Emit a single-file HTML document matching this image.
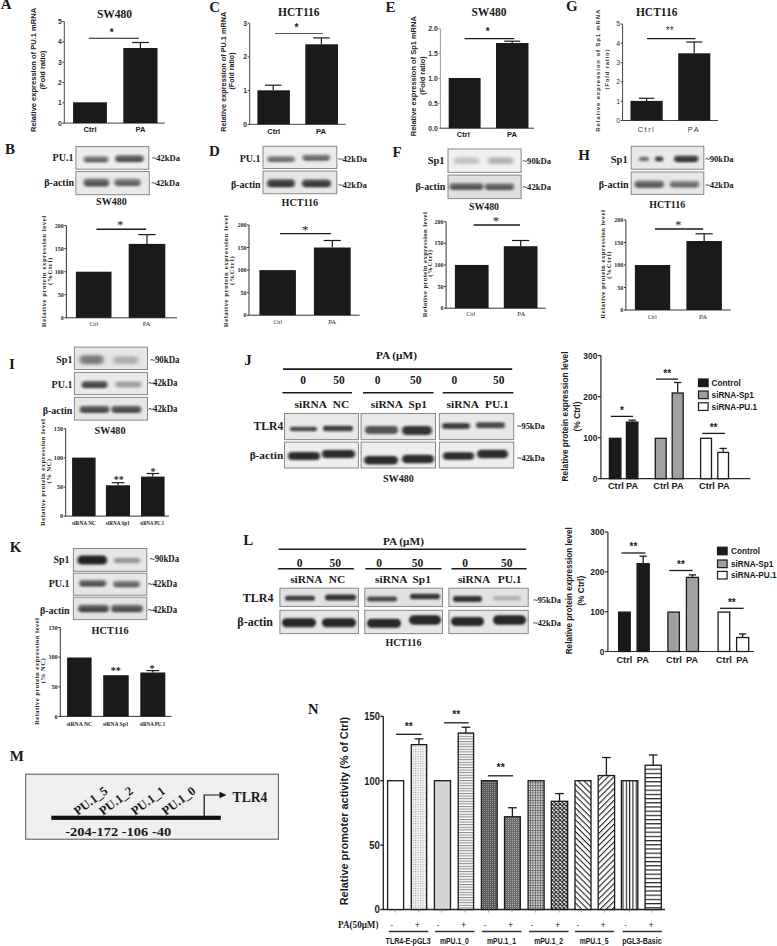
<!DOCTYPE html>
<html><head><meta charset="utf-8"><style>
html,body{margin:0;padding:0;background:#fff;}
svg{display:block;}
</style></head><body>
<svg width="777" height="946" viewBox="0 0 777 946">
<defs>
<filter id="f170_110" x="-50%" y="-150%" width="200%" height="400%"><feGaussianBlur stdDeviation="1.7 1.1"/></filter>
<filter id="f170_88" x="-50%" y="-150%" width="200%" height="400%"><feGaussianBlur stdDeviation="1.7 0.8800000000000001"/></filter>
<filter id="f180_120" x="-50%" y="-150%" width="200%" height="400%"><feGaussianBlur stdDeviation="1.8 1.2"/></filter>
<filter id="f180_96" x="-50%" y="-150%" width="200%" height="400%"><feGaussianBlur stdDeviation="1.8 0.96"/></filter>
<filter id="f160_100" x="-50%" y="-150%" width="200%" height="400%"><feGaussianBlur stdDeviation="1.6 1.0"/></filter>
<filter id="f160_80" x="-50%" y="-150%" width="200%" height="400%"><feGaussianBlur stdDeviation="1.6 0.8"/></filter>
<filter id="f140_100" x="-50%" y="-150%" width="200%" height="400%"><feGaussianBlur stdDeviation="1.4 1.0"/></filter>
<filter id="f140_80" x="-50%" y="-150%" width="200%" height="400%"><feGaussianBlur stdDeviation="1.4 0.8"/></filter>
<filter id="f200_140" x="-50%" y="-150%" width="200%" height="400%"><feGaussianBlur stdDeviation="2.0 1.4"/></filter>
<filter id="f180_110" x="-50%" y="-150%" width="200%" height="400%"><feGaussianBlur stdDeviation="1.8 1.1"/></filter>
<filter id="f180_88" x="-50%" y="-150%" width="200%" height="400%"><feGaussianBlur stdDeviation="1.8 0.8800000000000001"/></filter>
<filter id="f150_100" x="-50%" y="-150%" width="200%" height="400%"><feGaussianBlur stdDeviation="1.5 1.0"/></filter>
<filter id="f150_80" x="-50%" y="-150%" width="200%" height="400%"><feGaussianBlur stdDeviation="1.5 0.8"/></filter>
<filter id="f220_180" x="-50%" y="-150%" width="200%" height="400%"><feGaussianBlur stdDeviation="2.2 1.8"/></filter>
<filter id="f160_110" x="-50%" y="-150%" width="200%" height="400%"><feGaussianBlur stdDeviation="1.6 1.1"/></filter>
<filter id="f160_88" x="-50%" y="-150%" width="200%" height="400%"><feGaussianBlur stdDeviation="1.6 0.8800000000000001"/></filter>
<filter id="f130_90" x="-50%" y="-150%" width="200%" height="400%"><feGaussianBlur stdDeviation="1.3 0.9"/></filter>
<filter id="f120_90" x="-50%" y="-150%" width="200%" height="400%"><feGaussianBlur stdDeviation="1.2 0.9"/></filter>
<filter id="f130_100" x="-50%" y="-150%" width="200%" height="400%"><feGaussianBlur stdDeviation="1.3 1.0"/></filter>
<pattern id="pdot" width="2.4" height="2.4" patternUnits="userSpaceOnUse"><rect width="2.4" height="2.4" fill="#f4f4f4"/><rect x="0" y="0" width="1" height="1" fill="#9a9a9a"/></pattern>
<pattern id="phl" width="2.6" height="2.6" patternUnits="userSpaceOnUse"><rect width="2.6" height="2.6" fill="#fafafa"/><rect x="0" y="0" width="2.6" height="1" fill="#8a8a8a"/></pattern>
<pattern id="pdk1" width="2" height="2" patternUnits="userSpaceOnUse"><rect width="2" height="2" fill="#5a5a5a"/><rect x="0" y="0" width="1" height="1" fill="#9a9a9a"/></pattern>
<pattern id="pdk2" width="2" height="2" patternUnits="userSpaceOnUse"><rect width="2" height="2" fill="#6a6a6a"/><rect x="0" y="0" width="1" height="1" fill="#aaaaaa"/></pattern>
<pattern id="pgrid" width="2.5" height="2.5" patternUnits="userSpaceOnUse"><rect width="2.5" height="2.5" fill="#d8d8d8"/><rect x="0" y="0" width="2.5" height="0.8" fill="#666"/><rect x="0" y="0" width="0.8" height="2.5" fill="#666"/></pattern>
<pattern id="pdia" width="4" height="4" patternUnits="userSpaceOnUse"><rect width="4" height="4" fill="#ffffff"/><path d="M0 0L4 4M4 0L0 4" stroke="#333" stroke-width="1.3"/></pattern>
<pattern id="pbs" width="4.2" height="4.2" patternUnits="userSpaceOnUse" patternTransform="rotate(45)"><rect width="4.2" height="4.2" fill="#fff"/><rect x="0" y="0" width="4.2" height="1.1" fill="#222"/></pattern>
<pattern id="pfs" width="4.2" height="4.2" patternUnits="userSpaceOnUse" patternTransform="rotate(-45)"><rect width="4.2" height="4.2" fill="#fff"/><rect x="0" y="0" width="4.2" height="1.1" fill="#222"/></pattern>
<pattern id="pvl" width="3.3" height="3.3" patternUnits="userSpaceOnUse" x="622.5"><rect width="3.3" height="3.3" fill="#fff"/><rect x="0" y="0" width="1.1" height="3.3" fill="#222"/></pattern>
<pattern id="phl2" width="4.2" height="4.2" patternUnits="userSpaceOnUse"><rect width="4.2" height="4.2" fill="#fff"/><rect x="0" y="0" width="4.2" height="1.2" fill="#222"/></pattern>
</defs>
<rect width="777" height="946" fill="#fff"/>
<text x="0.80" y="9.40" font-family="Liberation Serif" font-size="15" font-weight="bold" fill="#1a1a1a">A</text>
<text x="114.50" y="17.50" font-family="Liberation Serif" font-size="11.5" font-weight="bold" text-anchor="middle" fill="#1a1a1a">SW480</text>
<line x1="64.30" y1="21.60" x2="64.30" y2="123.10" stroke="#444" stroke-width="1.0"/>
<line x1="63.80" y1="123.10" x2="164.80" y2="123.10" stroke="#444" stroke-width="1.0"/>
<line x1="62.30" y1="123.10" x2="64.30" y2="123.10" stroke="#444" stroke-width="1.0"/>
<text x="61.70" y="125.55" font-family="Liberation Sans" font-size="6.8" font-weight="bold" text-anchor="end" fill="#333">0</text>
<line x1="62.30" y1="102.80" x2="64.30" y2="102.80" stroke="#444" stroke-width="1.0"/>
<text x="61.70" y="105.25" font-family="Liberation Sans" font-size="6.8" font-weight="bold" text-anchor="end" fill="#333">1</text>
<line x1="62.30" y1="82.50" x2="64.30" y2="82.50" stroke="#444" stroke-width="1.0"/>
<text x="61.70" y="84.95" font-family="Liberation Sans" font-size="6.8" font-weight="bold" text-anchor="end" fill="#333">2</text>
<line x1="62.30" y1="62.20" x2="64.30" y2="62.20" stroke="#444" stroke-width="1.0"/>
<text x="61.70" y="64.65" font-family="Liberation Sans" font-size="6.8" font-weight="bold" text-anchor="end" fill="#333">3</text>
<line x1="62.30" y1="41.90" x2="64.30" y2="41.90" stroke="#444" stroke-width="1.0"/>
<text x="61.70" y="44.35" font-family="Liberation Sans" font-size="6.8" font-weight="bold" text-anchor="end" fill="#333">4</text>
<line x1="62.30" y1="21.60" x2="64.30" y2="21.60" stroke="#444" stroke-width="1.0"/>
<text x="61.70" y="24.05" font-family="Liberation Sans" font-size="6.8" font-weight="bold" text-anchor="end" fill="#333">5</text>
<rect x="73.10" y="102.30" width="33.80" height="20.80" fill="#1a1a1a"/>
<rect x="123.30" y="48.00" width="34.20" height="75.10" fill="#1a1a1a"/>
<line x1="140.40" y1="48.00" x2="140.40" y2="42.50" stroke="#1a1a1a" stroke-width="1.2"/>
<line x1="131.90" y1="42.50" x2="148.90" y2="42.50" stroke="#1a1a1a" stroke-width="1.2"/>
<line x1="88.80" y1="38.30" x2="139.00" y2="38.30" stroke="#1a1a1a" stroke-width="1.1"/>
<text x="111.80" y="36.20" font-family="Liberation Sans" font-size="10" font-weight="bold" text-anchor="middle" fill="#1a1a1a">*</text>
<text x="90.00" y="132.30" font-family="Liberation Sans" font-size="7.6" font-weight="bold" text-anchor="middle" fill="#1a1a1a">Ctrl</text>
<text x="140.60" y="132.30" font-family="Liberation Sans" font-size="7.6" font-weight="bold" text-anchor="middle" fill="#1a1a1a">PA</text>
<text x="35.60" y="69.90" font-family="Liberation Sans" font-size="7.8" font-weight="bold" text-anchor="middle" transform="rotate(-90 35.60 69.90)" textLength="124" lengthAdjust="spacingAndGlyphs" fill="#222">Relative expression of PU.1 mRNA</text>
<text x="45.50" y="69.90" font-family="Liberation Sans" font-size="7.8" font-weight="bold" text-anchor="middle" transform="rotate(-90 45.50 69.90)" textLength="39" lengthAdjust="spacingAndGlyphs" fill="#222">(Fold ratio)</text>
<text x="209.30" y="11.80" font-family="Liberation Serif" font-size="15" font-weight="bold" fill="#1a1a1a">C</text>
<text x="298.80" y="16.30" font-family="Liberation Serif" font-size="11.5" font-weight="bold" text-anchor="middle" fill="#1a1a1a">HCT116</text>
<line x1="249.70" y1="23.20" x2="249.70" y2="124.30" stroke="#444" stroke-width="1.0"/>
<line x1="249.20" y1="124.30" x2="345.70" y2="124.30" stroke="#444" stroke-width="1.0"/>
<line x1="247.70" y1="124.30" x2="249.70" y2="124.30" stroke="#444" stroke-width="1.0"/>
<text x="247.10" y="126.75" font-family="Liberation Sans" font-size="6.8" font-weight="bold" text-anchor="end" fill="#333">0</text>
<line x1="247.70" y1="90.60" x2="249.70" y2="90.60" stroke="#444" stroke-width="1.0"/>
<text x="247.10" y="93.05" font-family="Liberation Sans" font-size="6.8" font-weight="bold" text-anchor="end" fill="#333">1</text>
<line x1="247.70" y1="56.90" x2="249.70" y2="56.90" stroke="#444" stroke-width="1.0"/>
<text x="247.10" y="59.35" font-family="Liberation Sans" font-size="6.8" font-weight="bold" text-anchor="end" fill="#333">2</text>
<line x1="247.70" y1="23.20" x2="249.70" y2="23.20" stroke="#444" stroke-width="1.0"/>
<text x="247.10" y="25.65" font-family="Liberation Sans" font-size="6.8" font-weight="bold" text-anchor="end" fill="#333">3</text>
<rect x="257.40" y="90.30" width="32.50" height="34.00" fill="#1a1a1a"/>
<rect x="305.30" y="44.30" width="32.70" height="80.00" fill="#1a1a1a"/>
<line x1="273.20" y1="90.30" x2="273.20" y2="85.20" stroke="#1a1a1a" stroke-width="1.2"/>
<line x1="265.00" y1="85.20" x2="281.40" y2="85.20" stroke="#1a1a1a" stroke-width="1.2"/>
<line x1="321.40" y1="44.30" x2="321.40" y2="37.90" stroke="#1a1a1a" stroke-width="1.2"/>
<line x1="313.10" y1="37.90" x2="329.70" y2="37.90" stroke="#1a1a1a" stroke-width="1.2"/>
<line x1="275.00" y1="33.50" x2="322.60" y2="33.50" stroke="#555" stroke-width="1.1"/>
<text x="296.50" y="31.00" font-family="Liberation Sans" font-size="10" font-weight="bold" text-anchor="middle" fill="#1a1a1a">*</text>
<text x="273.70" y="134.30" font-family="Liberation Sans" font-size="7.6" font-weight="bold" text-anchor="middle" fill="#1a1a1a">Ctrl</text>
<text x="321.00" y="134.30" font-family="Liberation Sans" font-size="7.6" font-weight="bold" text-anchor="middle" fill="#1a1a1a">PA</text>
<text x="226.20" y="71.80" font-family="Liberation Sans" font-size="7.8" font-weight="bold" text-anchor="middle" transform="rotate(-90 226.20 71.80)" textLength="120" lengthAdjust="spacingAndGlyphs" fill="#222">Relative expression of PU.1 mRNA</text>
<text x="234.30" y="71.00" font-family="Liberation Sans" font-size="7.8" font-weight="bold" text-anchor="middle" transform="rotate(-90 234.30 71.00)" textLength="37" lengthAdjust="spacingAndGlyphs" fill="#222">(Fold ratio)</text>
<text x="385.50" y="11.80" font-family="Liberation Serif" font-size="15" font-weight="bold" fill="#1a1a1a">E</text>
<text x="489.00" y="15.50" font-family="Liberation Serif" font-size="11.5" font-weight="bold" text-anchor="middle" fill="#1a1a1a">SW480</text>
<line x1="440.40" y1="28.80" x2="440.40" y2="128.20" stroke="#999" stroke-width="1.0"/>
<line x1="439.90" y1="128.20" x2="534.00" y2="128.20" stroke="#333" stroke-width="1.0"/>
<line x1="438.40" y1="128.20" x2="440.40" y2="128.20" stroke="#999" stroke-width="1.0"/>
<text x="437.80" y="130.65" font-family="Liberation Sans" font-size="6.8" font-weight="bold" text-anchor="end" fill="#333">0.0</text>
<line x1="438.40" y1="103.35" x2="440.40" y2="103.35" stroke="#999" stroke-width="1.0"/>
<text x="437.80" y="105.80" font-family="Liberation Sans" font-size="6.8" font-weight="bold" text-anchor="end" fill="#333">0.5</text>
<line x1="438.40" y1="78.50" x2="440.40" y2="78.50" stroke="#999" stroke-width="1.0"/>
<text x="437.80" y="80.95" font-family="Liberation Sans" font-size="6.8" font-weight="bold" text-anchor="end" fill="#333">1.0</text>
<line x1="438.40" y1="53.65" x2="440.40" y2="53.65" stroke="#999" stroke-width="1.0"/>
<text x="437.80" y="56.10" font-family="Liberation Sans" font-size="6.8" font-weight="bold" text-anchor="end" fill="#333">1.5</text>
<line x1="438.40" y1="28.80" x2="440.40" y2="28.80" stroke="#999" stroke-width="1.0"/>
<text x="437.80" y="31.25" font-family="Liberation Sans" font-size="6.8" font-weight="bold" text-anchor="end" fill="#333">2.0</text>
<rect x="448.70" y="78.00" width="31.90" height="50.20" fill="#1a1a1a"/>
<rect x="496.00" y="43.00" width="32.50" height="85.20" fill="#1a1a1a"/>
<line x1="512.20" y1="43.00" x2="512.20" y2="41.20" stroke="#1a1a1a" stroke-width="1.2"/>
<line x1="504.20" y1="41.20" x2="520.20" y2="41.20" stroke="#1a1a1a" stroke-width="1.2"/>
<line x1="464.60" y1="38.60" x2="514.30" y2="38.60" stroke="#1a1a1a" stroke-width="1.1"/>
<text x="487.80" y="34.60" font-family="Liberation Sans" font-size="10" font-weight="bold" text-anchor="middle" fill="#1a1a1a">*</text>
<text x="463.40" y="137.00" font-family="Liberation Sans" font-size="7.6" font-weight="bold" text-anchor="middle" fill="#1a1a1a">Ctrl</text>
<text x="512.00" y="137.00" font-family="Liberation Sans" font-size="7.6" font-weight="bold" text-anchor="middle" fill="#1a1a1a">PA</text>
<text x="416.00" y="76.20" font-family="Liberation Sans" font-size="7.8" font-weight="bold" text-anchor="middle" transform="rotate(-90 416.00 76.20)" textLength="120" lengthAdjust="spacingAndGlyphs" fill="#222">Relative expression of Sp1 mRNA</text>
<text x="424.60" y="75.50" font-family="Liberation Sans" font-size="7.8" font-weight="bold" text-anchor="middle" transform="rotate(-90 424.60 75.50)" textLength="38.5" lengthAdjust="spacingAndGlyphs" fill="#222">(Fold ratio)</text>
<text x="566.00" y="10.80" font-family="Liberation Serif" font-size="15" font-weight="bold" fill="#1a1a1a">G</text>
<text x="656.70" y="16.00" font-family="Liberation Serif" font-size="11.5" font-weight="bold" text-anchor="middle" fill="#1a1a1a">HCT116</text>
<line x1="622.60" y1="24.00" x2="622.60" y2="120.50" stroke="#444" stroke-width="1.0"/>
<line x1="622.10" y1="120.50" x2="718.00" y2="120.50" stroke="#444" stroke-width="1.0"/>
<line x1="620.60" y1="120.50" x2="622.60" y2="120.50" stroke="#444" stroke-width="1.0"/>
<text x="620.00" y="122.95" font-family="Liberation Sans" font-size="6.8" text-anchor="end" fill="#333">0</text>
<line x1="620.60" y1="101.20" x2="622.60" y2="101.20" stroke="#444" stroke-width="1.0"/>
<text x="620.00" y="103.65" font-family="Liberation Sans" font-size="6.8" text-anchor="end" fill="#333">1</text>
<line x1="620.60" y1="81.90" x2="622.60" y2="81.90" stroke="#444" stroke-width="1.0"/>
<text x="620.00" y="84.35" font-family="Liberation Sans" font-size="6.8" text-anchor="end" fill="#333">2</text>
<line x1="620.60" y1="62.60" x2="622.60" y2="62.60" stroke="#444" stroke-width="1.0"/>
<text x="620.00" y="65.05" font-family="Liberation Sans" font-size="6.8" text-anchor="end" fill="#333">3</text>
<line x1="620.60" y1="43.30" x2="622.60" y2="43.30" stroke="#444" stroke-width="1.0"/>
<text x="620.00" y="45.75" font-family="Liberation Sans" font-size="6.8" text-anchor="end" fill="#333">4</text>
<line x1="620.60" y1="24.00" x2="622.60" y2="24.00" stroke="#444" stroke-width="1.0"/>
<text x="620.00" y="26.45" font-family="Liberation Sans" font-size="6.8" text-anchor="end" fill="#333">5</text>
<rect x="630.50" y="100.90" width="32.20" height="19.60" fill="#1a1a1a"/>
<rect x="678.20" y="53.30" width="32.10" height="67.20" fill="#1a1a1a"/>
<line x1="646.60" y1="100.90" x2="646.60" y2="98.30" stroke="#1a1a1a" stroke-width="1.2"/>
<line x1="638.90" y1="98.30" x2="654.30" y2="98.30" stroke="#1a1a1a" stroke-width="1.2"/>
<line x1="694.20" y1="53.30" x2="694.20" y2="42.00" stroke="#1a1a1a" stroke-width="1.2"/>
<line x1="686.20" y1="42.00" x2="702.20" y2="42.00" stroke="#1a1a1a" stroke-width="1.2"/>
<line x1="647.00" y1="38.60" x2="695.40" y2="38.60" stroke="#1a1a1a" stroke-width="1.1"/>
<text x="669.70" y="34.00" font-family="Liberation Sans" font-size="10" text-anchor="middle" fill="#333">**</text>
<text x="646.50" y="131.50" font-family="Liberation Sans" font-size="7.4" text-anchor="middle" letter-spacing="1.5" fill="#333">Ctrl</text>
<text x="694.00" y="131.50" font-family="Liberation Sans" font-size="7.4" text-anchor="middle" letter-spacing="1.5" fill="#333">PA</text>
<text x="600.10" y="70.70" font-family="Liberation Sans" font-size="6.0" font-weight="bold" text-anchor="middle" transform="rotate(-90 600.10 70.70)" textLength="122" lengthAdjust="spacing" fill="#333">Relative expression of Sp1 mRNA</text>
<text x="608.80" y="69.50" font-family="Liberation Sans" font-size="6.0" font-weight="bold" text-anchor="middle" transform="rotate(-90 608.80 69.50)" textLength="40" lengthAdjust="spacing" fill="#333">(Fold ratio)</text>
<text x="5.00" y="154.30" font-family="Liberation Serif" font-size="15" font-weight="bold" fill="#1a1a1a">B</text>
<rect x="75.90" y="146.60" width="72.90" height="22.60" fill="#ececec" stroke="#888" stroke-width="1"/>
<rect x="75.90" y="171.50" width="73.40" height="23.20" fill="#e9e9e9" stroke="#888" stroke-width="1"/>
<rect x="83.40" y="156.20" width="25.20" height="6.20" rx="3.10" fill="#202020" opacity="0.48750000000000004" filter="url(#f170_110)"/>
<rect x="84.90" y="158.71" width="22.20" height="3.41" rx="1.71" fill="#202020" opacity="0.35750000000000004" filter="url(#f170_88)"/>
<rect x="115.00" y="155.10" width="28.80" height="7.00" rx="3.50" fill="#202020" opacity="0.6000000000000001" filter="url(#f170_110)"/>
<rect x="116.50" y="157.93" width="25.80" height="3.85" rx="1.93" fill="#202020" opacity="0.44000000000000006" filter="url(#f170_88)"/>
<rect x="83.40" y="178.60" width="26.10" height="8.00" rx="4.00" fill="#202020" opacity="0.5625" filter="url(#f180_120)"/>
<rect x="84.90" y="181.84" width="23.10" height="4.40" rx="2.20" fill="#202020" opacity="0.41250000000000003" filter="url(#f180_96)"/>
<rect x="114.00" y="178.50" width="27.00" height="7.60" rx="3.80" fill="#202020" opacity="0.48750000000000004" filter="url(#f180_120)"/>
<rect x="115.50" y="181.58" width="24.00" height="4.18" rx="2.09" fill="#202020" opacity="0.35750000000000004" filter="url(#f180_96)"/>
<text x="73.40" y="160.70" font-family="Liberation Serif" font-size="10" font-weight="bold" text-anchor="end" fill="#1a1a1a">PU.1</text>
<text x="74.00" y="186.40" font-family="Liberation Serif" font-size="10" font-weight="bold" text-anchor="end" fill="#1a1a1a">β-actin</text>
<text x="151.90" y="160.50" font-family="Liberation Serif" font-size="9" font-weight="bold" textLength="28" lengthAdjust="spacingAndGlyphs" fill="#1a1a1a">~42kDa</text>
<text x="151.40" y="186.20" font-family="Liberation Serif" font-size="9" font-weight="bold" textLength="28" lengthAdjust="spacingAndGlyphs" fill="#1a1a1a">~42kDa</text>
<text x="111.40" y="204.90" font-family="Liberation Serif" font-size="10.4" font-weight="bold" text-anchor="middle" textLength="30.6" lengthAdjust="spacingAndGlyphs" fill="#1a1a1a">SW480</text>
<line x1="66.40" y1="225.60" x2="66.40" y2="317.80" stroke="#333" stroke-width="1.0"/>
<line x1="65.90" y1="317.80" x2="177.00" y2="317.80" stroke="#333" stroke-width="1.0"/>
<line x1="64.40" y1="317.80" x2="66.40" y2="317.80" stroke="#333" stroke-width="1.0"/>
<text x="63.80" y="319.96" font-family="Liberation Serif" font-size="6" font-weight="bold" text-anchor="end" fill="#2a2a2a">0</text>
<line x1="64.40" y1="294.75" x2="66.40" y2="294.75" stroke="#333" stroke-width="1.0"/>
<text x="63.80" y="296.91" font-family="Liberation Serif" font-size="6" font-weight="bold" text-anchor="end" fill="#2a2a2a">50</text>
<line x1="64.40" y1="271.70" x2="66.40" y2="271.70" stroke="#333" stroke-width="1.0"/>
<text x="63.80" y="273.86" font-family="Liberation Serif" font-size="6" font-weight="bold" text-anchor="end" fill="#2a2a2a">100</text>
<line x1="64.40" y1="248.65" x2="66.40" y2="248.65" stroke="#333" stroke-width="1.0"/>
<text x="63.80" y="250.81" font-family="Liberation Serif" font-size="6" font-weight="bold" text-anchor="end" fill="#2a2a2a">150</text>
<line x1="64.40" y1="225.60" x2="66.40" y2="225.60" stroke="#333" stroke-width="1.0"/>
<text x="63.80" y="227.76" font-family="Liberation Serif" font-size="6" font-weight="bold" text-anchor="end" fill="#2a2a2a">200</text>
<rect x="75.90" y="271.70" width="35.60" height="46.10" fill="#1a1a1a"/>
<rect x="128.70" y="243.90" width="36.60" height="73.90" fill="#1a1a1a"/>
<line x1="147.00" y1="243.90" x2="147.00" y2="234.60" stroke="#1a1a1a" stroke-width="1.2"/>
<line x1="138.40" y1="234.60" x2="155.60" y2="234.60" stroke="#1a1a1a" stroke-width="1.2"/>
<line x1="96.50" y1="229.20" x2="146.20" y2="229.20" stroke="#1a1a1a" stroke-width="1.4"/>
<text x="120.20" y="229.40" font-family="Liberation Serif" font-size="13" text-anchor="middle" fill="#1a1a1a">*</text>
<text x="94.00" y="326.00" font-family="Liberation Serif" font-size="6.4" text-anchor="middle" textLength="8.8" lengthAdjust="spacingAndGlyphs" fill="#1a1a1a">Ctrl</text>
<text x="146.70" y="326.00" font-family="Liberation Serif" font-size="6.4" text-anchor="middle" textLength="8" lengthAdjust="spacingAndGlyphs" fill="#1a1a1a">PA</text>
<text x="45.80" y="271.50" font-family="Liberation Serif" font-size="6.8" font-weight="bold" text-anchor="middle" transform="rotate(-90 45.80 271.50)" textLength="111.5" lengthAdjust="spacing" fill="#2a2a2a">Relative protein expression level</text>
<text x="52.20" y="271.30" font-family="Liberation Serif" font-size="6.8" font-weight="bold" text-anchor="middle" transform="rotate(-90 52.20 271.30)" textLength="27.3" lengthAdjust="spacing" fill="#2a2a2a">(%Ctrl)</text>
<text x="209.00" y="155.60" font-family="Liberation Serif" font-size="15" font-weight="bold" fill="#1a1a1a">D</text>
<rect x="263.00" y="146.30" width="73.80" height="22.20" fill="#ebebeb" stroke="#888" stroke-width="1"/>
<rect x="263.00" y="171.00" width="73.80" height="22.70" fill="#e6e6e6" stroke="#888" stroke-width="1"/>
<rect x="267.10" y="156.00" width="27.90" height="6.00" rx="3.00" fill="#202020" opacity="0.44999999999999996" filter="url(#f160_100)"/>
<rect x="268.60" y="158.43" width="24.90" height="3.30" rx="1.65" fill="#202020" opacity="0.33" filter="url(#f160_80)"/>
<rect x="302.30" y="154.50" width="27.90" height="6.20" rx="3.10" fill="#202020" opacity="0.48750000000000004" filter="url(#f160_100)"/>
<rect x="303.80" y="157.01" width="24.90" height="3.41" rx="1.71" fill="#202020" opacity="0.35750000000000004" filter="url(#f160_80)"/>
<rect x="267.00" y="179.30" width="28.00" height="7.80" rx="3.90" fill="#202020" opacity="0.75" filter="url(#f140_100)"/>
<rect x="268.50" y="182.46" width="25.00" height="4.29" rx="2.15" fill="#202020" opacity="0.55" filter="url(#f140_80)"/>
<rect x="302.00" y="179.40" width="29.00" height="7.60" rx="3.80" fill="#202020" opacity="0.75" filter="url(#f140_100)"/>
<rect x="303.50" y="182.48" width="26.00" height="4.18" rx="2.09" fill="#202020" opacity="0.55" filter="url(#f140_80)"/>
<text x="260.60" y="161.80" font-family="Liberation Serif" font-size="10" font-weight="bold" text-anchor="end" fill="#1a1a1a">PU.1</text>
<text x="260.60" y="187.50" font-family="Liberation Serif" font-size="10" font-weight="bold" text-anchor="end" fill="#1a1a1a">β-actin</text>
<text x="337.90" y="161.80" font-family="Liberation Serif" font-size="9" font-weight="bold" textLength="29" lengthAdjust="spacingAndGlyphs" fill="#1a1a1a">~42kDa</text>
<text x="337.90" y="187.50" font-family="Liberation Serif" font-size="9" font-weight="bold" textLength="29" lengthAdjust="spacingAndGlyphs" fill="#1a1a1a">~42kDa</text>
<text x="299.80" y="205.80" font-family="Liberation Serif" font-size="10.4" font-weight="bold" text-anchor="middle" textLength="36.6" lengthAdjust="spacingAndGlyphs" fill="#1a1a1a">HCT116</text>
<line x1="249.00" y1="225.00" x2="249.00" y2="315.20" stroke="#333" stroke-width="1.0"/>
<line x1="248.50" y1="315.20" x2="359.70" y2="315.20" stroke="#333" stroke-width="1.0"/>
<line x1="247.00" y1="315.20" x2="249.00" y2="315.20" stroke="#333" stroke-width="1.0"/>
<text x="246.40" y="317.36" font-family="Liberation Serif" font-size="6" font-weight="bold" text-anchor="end" fill="#2a2a2a">0</text>
<line x1="247.00" y1="292.65" x2="249.00" y2="292.65" stroke="#333" stroke-width="1.0"/>
<text x="246.40" y="294.81" font-family="Liberation Serif" font-size="6" font-weight="bold" text-anchor="end" fill="#2a2a2a">50</text>
<line x1="247.00" y1="270.10" x2="249.00" y2="270.10" stroke="#333" stroke-width="1.0"/>
<text x="246.40" y="272.26" font-family="Liberation Serif" font-size="6" font-weight="bold" text-anchor="end" fill="#2a2a2a">100</text>
<line x1="247.00" y1="247.55" x2="249.00" y2="247.55" stroke="#333" stroke-width="1.0"/>
<text x="246.40" y="249.71" font-family="Liberation Serif" font-size="6" font-weight="bold" text-anchor="end" fill="#2a2a2a">150</text>
<line x1="247.00" y1="225.00" x2="249.00" y2="225.00" stroke="#333" stroke-width="1.0"/>
<text x="246.40" y="227.16" font-family="Liberation Serif" font-size="6" font-weight="bold" text-anchor="end" fill="#2a2a2a">200</text>
<rect x="259.40" y="270.10" width="36.50" height="45.10" fill="#1a1a1a"/>
<rect x="313.90" y="247.50" width="36.80" height="67.70" fill="#1a1a1a"/>
<line x1="332.30" y1="247.50" x2="332.30" y2="240.50" stroke="#1a1a1a" stroke-width="1.2"/>
<line x1="323.70" y1="240.50" x2="340.90" y2="240.50" stroke="#1a1a1a" stroke-width="1.2"/>
<line x1="280.00" y1="233.60" x2="331.00" y2="233.60" stroke="#1a1a1a" stroke-width="1.4"/>
<text x="305.20" y="233.90" font-family="Liberation Serif" font-size="13" text-anchor="middle" fill="#1a1a1a">*</text>
<text x="277.90" y="324.00" font-family="Liberation Serif" font-size="6.4" text-anchor="middle" textLength="8.8" lengthAdjust="spacingAndGlyphs" fill="#1a1a1a">Ctrl</text>
<text x="332.20" y="324.00" font-family="Liberation Serif" font-size="6.4" text-anchor="middle" textLength="8" lengthAdjust="spacingAndGlyphs" fill="#1a1a1a">PA</text>
<text x="227.80" y="271.30" font-family="Liberation Serif" font-size="6.8" font-weight="bold" text-anchor="middle" transform="rotate(-90 227.80 271.30)" textLength="112" lengthAdjust="spacing" fill="#2a2a2a">Relative protein expression level</text>
<text x="234.20" y="270.60" font-family="Liberation Serif" font-size="6.8" font-weight="bold" text-anchor="middle" transform="rotate(-90 234.20 270.60)" textLength="28.6" lengthAdjust="spacing" fill="#2a2a2a">(%Ctrl)</text>
<text x="392.60" y="157.20" font-family="Liberation Serif" font-size="15" font-weight="bold" fill="#1a1a1a">F</text>
<rect x="448.00" y="149.00" width="73.10" height="23.40" fill="#f0f0f0" stroke="#888" stroke-width="1"/>
<rect x="448.00" y="175.10" width="73.10" height="23.50" fill="#e0e0e0" stroke="#888" stroke-width="1"/>
<rect x="453.90" y="157.45" width="25.20" height="6.50" rx="3.25" fill="#202020" opacity="0.22" filter="url(#f200_140)"/>
<rect x="488.20" y="157.45" width="25.20" height="6.50" rx="3.25" fill="#202020" opacity="0.3" filter="url(#f200_140)"/>
<rect x="449.40" y="183.00" width="34.20" height="6.80" rx="3.40" fill="#202020" opacity="0.5625" filter="url(#f180_110)"/>
<rect x="450.90" y="185.75" width="31.20" height="3.74" rx="1.87" fill="#202020" opacity="0.41250000000000003" filter="url(#f180_88)"/>
<rect x="484.60" y="183.20" width="29.70" height="6.80" rx="3.40" fill="#202020" opacity="0.5249999999999999" filter="url(#f180_110)"/>
<rect x="486.10" y="185.95" width="26.70" height="3.74" rx="1.87" fill="#202020" opacity="0.385" filter="url(#f180_88)"/>
<text x="444.60" y="164.00" font-family="Liberation Serif" font-size="10.5" font-weight="bold" text-anchor="end" fill="#1a1a1a">Sp1</text>
<text x="445.30" y="189.60" font-family="Liberation Serif" font-size="10" font-weight="bold" text-anchor="end" fill="#1a1a1a">β-actin</text>
<text x="522.60" y="163.80" font-family="Liberation Serif" font-size="9" font-weight="bold" textLength="28.5" lengthAdjust="spacingAndGlyphs" fill="#1a1a1a">~90kDa</text>
<text x="522.60" y="189.50" font-family="Liberation Serif" font-size="9" font-weight="bold" textLength="28.5" lengthAdjust="spacingAndGlyphs" fill="#1a1a1a">~42kDa</text>
<text x="484.00" y="209.90" font-family="Liberation Serif" font-size="10.4" font-weight="bold" text-anchor="middle" textLength="30.1" lengthAdjust="spacingAndGlyphs" fill="#1a1a1a">SW480</text>
<line x1="446.10" y1="221.70" x2="446.10" y2="308.20" stroke="#333" stroke-width="1.0"/>
<line x1="445.60" y1="308.20" x2="545.70" y2="308.20" stroke="#333" stroke-width="1.0"/>
<line x1="444.10" y1="308.20" x2="446.10" y2="308.20" stroke="#333" stroke-width="1.0"/>
<text x="443.50" y="310.36" font-family="Liberation Serif" font-size="6" font-weight="bold" text-anchor="end" fill="#2a2a2a">0</text>
<line x1="444.10" y1="286.57" x2="446.10" y2="286.57" stroke="#333" stroke-width="1.0"/>
<text x="443.50" y="288.74" font-family="Liberation Serif" font-size="6" font-weight="bold" text-anchor="end" fill="#2a2a2a">50</text>
<line x1="444.10" y1="264.95" x2="446.10" y2="264.95" stroke="#333" stroke-width="1.0"/>
<text x="443.50" y="267.11" font-family="Liberation Serif" font-size="6" font-weight="bold" text-anchor="end" fill="#2a2a2a">100</text>
<line x1="444.10" y1="243.32" x2="446.10" y2="243.32" stroke="#333" stroke-width="1.0"/>
<text x="443.50" y="245.48" font-family="Liberation Serif" font-size="6" font-weight="bold" text-anchor="end" fill="#2a2a2a">150</text>
<line x1="444.10" y1="221.70" x2="446.10" y2="221.70" stroke="#333" stroke-width="1.0"/>
<text x="443.50" y="223.86" font-family="Liberation Serif" font-size="6" font-weight="bold" text-anchor="end" fill="#2a2a2a">200</text>
<rect x="454.90" y="264.95" width="33.70" height="43.25" fill="#1a1a1a"/>
<rect x="503.80" y="246.20" width="33.70" height="62.00" fill="#1a1a1a"/>
<line x1="520.65" y1="246.20" x2="520.65" y2="240.50" stroke="#1a1a1a" stroke-width="1.2"/>
<line x1="512.05" y1="240.50" x2="529.25" y2="240.50" stroke="#1a1a1a" stroke-width="1.2"/>
<line x1="473.70" y1="225.00" x2="520.00" y2="225.00" stroke="#1a1a1a" stroke-width="1.4"/>
<text x="496.00" y="225.40" font-family="Liberation Serif" font-size="13" text-anchor="middle" fill="#1a1a1a">*</text>
<text x="471.00" y="316.00" font-family="Liberation Serif" font-size="6.4" text-anchor="middle" textLength="8.8" lengthAdjust="spacingAndGlyphs" fill="#1a1a1a">Ctrl</text>
<text x="521.30" y="316.00" font-family="Liberation Serif" font-size="6.4" text-anchor="middle" textLength="8" lengthAdjust="spacingAndGlyphs" fill="#1a1a1a">PA</text>
<text x="427.20" y="264.70" font-family="Liberation Serif" font-size="6.8" font-weight="bold" text-anchor="middle" transform="rotate(-90 427.20 264.70)" textLength="105" lengthAdjust="spacing" fill="#2a2a2a">Relative protein expression level</text>
<text x="432.30" y="263.40" font-family="Liberation Serif" font-size="6.8" font-weight="bold" text-anchor="middle" transform="rotate(-90 432.30 263.40)" textLength="26.7" lengthAdjust="spacing" fill="#2a2a2a">(%Ctrl)</text>
<text x="578.30" y="159.70" font-family="Liberation Serif" font-size="15" font-weight="bold" fill="#1a1a1a">H</text>
<rect x="631.20" y="146.30" width="72.60" height="22.90" fill="#e9e9e9" stroke="#888" stroke-width="1"/>
<rect x="631.20" y="172.00" width="72.60" height="22.40" fill="#e6e6e6" stroke="#888" stroke-width="1"/>
<rect x="638.90" y="156.75" width="9.90" height="4.50" rx="2.25" fill="#202020" opacity="0.6" filter="url(#f160_100)"/>
<rect x="655.00" y="156.50" width="8.20" height="5.00" rx="2.50" fill="#202020" opacity="0.85" filter="url(#f140_100)"/>
<rect x="674.00" y="155.45" width="24.40" height="6.50" rx="3.25" fill="#202020" opacity="0.75" filter="url(#f150_100)"/>
<rect x="675.50" y="158.08" width="21.40" height="3.58" rx="1.79" fill="#202020" opacity="0.55" filter="url(#f150_80)"/>
<rect x="634.40" y="180.40" width="29.70" height="7.40" rx="3.70" fill="#202020" opacity="0.54" filter="url(#f180_120)"/>
<rect x="635.90" y="183.40" width="26.70" height="4.07" rx="2.04" fill="#202020" opacity="0.396" filter="url(#f180_96)"/>
<rect x="669.50" y="180.70" width="29.80" height="6.80" rx="3.40" fill="#202020" opacity="0.44999999999999996" filter="url(#f180_120)"/>
<rect x="671.00" y="183.45" width="26.80" height="3.74" rx="1.87" fill="#202020" opacity="0.33" filter="url(#f180_96)"/>
<text x="627.70" y="162.80" font-family="Liberation Serif" font-size="10.5" font-weight="bold" text-anchor="end" fill="#1a1a1a">Sp1</text>
<text x="628.50" y="188.30" font-family="Liberation Serif" font-size="10" font-weight="bold" text-anchor="end" fill="#1a1a1a">β-actin</text>
<text x="705.20" y="162.30" font-family="Liberation Serif" font-size="9" font-weight="bold" textLength="28.5" lengthAdjust="spacingAndGlyphs" fill="#1a1a1a">~90kDa</text>
<text x="705.20" y="188.00" font-family="Liberation Serif" font-size="9" font-weight="bold" textLength="28.5" lengthAdjust="spacingAndGlyphs" fill="#1a1a1a">~42kDa</text>
<text x="667.20" y="208.10" font-family="Liberation Serif" font-size="10.4" font-weight="bold" text-anchor="middle" textLength="36" lengthAdjust="spacingAndGlyphs" fill="#1a1a1a">HCT116</text>
<line x1="625.90" y1="220.00" x2="625.90" y2="310.00" stroke="#333" stroke-width="1.0"/>
<line x1="625.40" y1="310.00" x2="730.90" y2="310.00" stroke="#333" stroke-width="1.0"/>
<line x1="623.90" y1="310.00" x2="625.90" y2="310.00" stroke="#333" stroke-width="1.0"/>
<text x="623.30" y="312.16" font-family="Liberation Serif" font-size="6" font-weight="bold" text-anchor="end" fill="#2a2a2a">0</text>
<line x1="623.90" y1="287.50" x2="625.90" y2="287.50" stroke="#333" stroke-width="1.0"/>
<text x="623.30" y="289.66" font-family="Liberation Serif" font-size="6" font-weight="bold" text-anchor="end" fill="#2a2a2a">50</text>
<line x1="623.90" y1="265.00" x2="625.90" y2="265.00" stroke="#333" stroke-width="1.0"/>
<text x="623.30" y="267.16" font-family="Liberation Serif" font-size="6" font-weight="bold" text-anchor="end" fill="#2a2a2a">100</text>
<line x1="623.90" y1="242.50" x2="625.90" y2="242.50" stroke="#333" stroke-width="1.0"/>
<text x="623.30" y="244.66" font-family="Liberation Serif" font-size="6" font-weight="bold" text-anchor="end" fill="#2a2a2a">150</text>
<line x1="623.90" y1="220.00" x2="625.90" y2="220.00" stroke="#333" stroke-width="1.0"/>
<text x="623.30" y="222.16" font-family="Liberation Serif" font-size="6" font-weight="bold" text-anchor="end" fill="#2a2a2a">200</text>
<rect x="634.90" y="265.00" width="35.30" height="45.00" fill="#1a1a1a"/>
<rect x="686.40" y="241.00" width="35.50" height="69.00" fill="#1a1a1a"/>
<line x1="704.15" y1="241.00" x2="704.15" y2="233.80" stroke="#1a1a1a" stroke-width="1.2"/>
<line x1="695.55" y1="233.80" x2="712.75" y2="233.80" stroke="#1a1a1a" stroke-width="1.2"/>
<line x1="655.00" y1="229.00" x2="703.10" y2="229.00" stroke="#1a1a1a" stroke-width="1.4"/>
<text x="678.20" y="229.40" font-family="Liberation Serif" font-size="13" text-anchor="middle" fill="#1a1a1a">*</text>
<text x="652.40" y="319.00" font-family="Liberation Serif" font-size="6.4" text-anchor="middle" textLength="8.8" lengthAdjust="spacingAndGlyphs" fill="#1a1a1a">Ctrl</text>
<text x="703.10" y="319.00" font-family="Liberation Serif" font-size="6.4" text-anchor="middle" textLength="8" lengthAdjust="spacingAndGlyphs" fill="#1a1a1a">PA</text>
<text x="605.30" y="264.40" font-family="Liberation Serif" font-size="6.8" font-weight="bold" text-anchor="middle" transform="rotate(-90 605.30 264.40)" textLength="108.5" lengthAdjust="spacing" fill="#2a2a2a">Relative protein expression level</text>
<text x="611.00" y="265.00" font-family="Liberation Serif" font-size="6.8" font-weight="bold" text-anchor="middle" transform="rotate(-90 611.00 265.00)" textLength="27.3" lengthAdjust="spacing" fill="#2a2a2a">(%Ctrl)</text>
<text x="9.00" y="368.60" font-family="Liberation Serif" font-size="15" font-weight="bold" fill="#1a1a1a">I</text>
<rect x="74.40" y="347.10" width="73.10" height="22.40" fill="#e6e6e6" stroke="#888" stroke-width="1"/>
<rect x="74.40" y="372.40" width="73.10" height="22.20" fill="#e9e9e9" stroke="#888" stroke-width="1"/>
<rect x="74.40" y="397.30" width="73.10" height="22.80" fill="#e6e6e6" stroke="#888" stroke-width="1"/>
<rect x="79.60" y="355.30" width="24.10" height="9.00" rx="4.50" fill="#202020" opacity="0.55" filter="url(#f220_180)"/>
<rect x="113.40" y="356.30" width="25.10" height="8.00" rx="4.00" fill="#202020" opacity="0.28" filter="url(#f220_180)"/>
<rect x="81.50" y="380.90" width="26.10" height="7.00" rx="3.50" fill="#202020" opacity="0.675" filter="url(#f160_110)"/>
<rect x="83.00" y="383.73" width="23.10" height="3.85" rx="1.93" fill="#202020" opacity="0.49500000000000005" filter="url(#f160_88)"/>
<rect x="115.30" y="381.40" width="26.10" height="6.00" rx="3.00" fill="#202020" opacity="0.35" filter="url(#f180_120)"/>
<rect x="79.60" y="405.80" width="29.90" height="7.00" rx="3.50" fill="#202020" opacity="0.6375" filter="url(#f160_110)"/>
<rect x="81.10" y="408.63" width="26.90" height="3.85" rx="1.93" fill="#202020" opacity="0.4675" filter="url(#f160_88)"/>
<rect x="111.40" y="405.80" width="30.00" height="7.00" rx="3.50" fill="#202020" opacity="0.6375" filter="url(#f160_110)"/>
<rect x="112.90" y="408.63" width="27.00" height="3.85" rx="1.93" fill="#202020" opacity="0.4675" filter="url(#f160_88)"/>
<text x="72.40" y="363.30" font-family="Liberation Serif" font-size="10" font-weight="bold" text-anchor="end" fill="#1a1a1a">Sp1</text>
<text x="72.40" y="388.40" font-family="Liberation Serif" font-size="10" font-weight="bold" text-anchor="end" fill="#1a1a1a">PU.1</text>
<text x="72.40" y="414.00" font-family="Liberation Serif" font-size="10" font-weight="bold" text-anchor="end" fill="#1a1a1a">β-actin</text>
<text x="150.40" y="362.50" font-family="Liberation Serif" font-size="9.3" font-weight="bold" textLength="29" lengthAdjust="spacingAndGlyphs" fill="#1a1a1a">~90kDa</text>
<text x="148.50" y="386.10" font-family="Liberation Serif" font-size="9.3" font-weight="bold" textLength="29" lengthAdjust="spacingAndGlyphs" fill="#1a1a1a">~42kDa</text>
<text x="148.50" y="411.70" font-family="Liberation Serif" font-size="9.3" font-weight="bold" textLength="29" lengthAdjust="spacingAndGlyphs" fill="#1a1a1a">~42kDa</text>
<text x="110.00" y="434.20" font-family="Liberation Serif" font-size="11.2" font-weight="bold" text-anchor="middle" textLength="31" lengthAdjust="spacingAndGlyphs" fill="#1a1a1a">SW480</text>
<line x1="65.70" y1="428.70" x2="65.70" y2="516.10" stroke="#333" stroke-width="1.0"/>
<line x1="65.20" y1="516.10" x2="169.00" y2="516.10" stroke="#333" stroke-width="1.0"/>
<line x1="63.70" y1="516.10" x2="65.70" y2="516.10" stroke="#333" stroke-width="1.0"/>
<text x="63.10" y="518.33" font-family="Liberation Serif" font-size="6.2" font-weight="bold" text-anchor="end" fill="#2a2a2a">0</text>
<line x1="63.70" y1="486.97" x2="65.70" y2="486.97" stroke="#333" stroke-width="1.0"/>
<text x="63.10" y="489.20" font-family="Liberation Serif" font-size="6.2" font-weight="bold" text-anchor="end" fill="#2a2a2a">50</text>
<line x1="63.70" y1="457.83" x2="65.70" y2="457.83" stroke="#333" stroke-width="1.0"/>
<text x="63.10" y="460.07" font-family="Liberation Serif" font-size="6.2" font-weight="bold" text-anchor="end" fill="#2a2a2a">100</text>
<line x1="63.70" y1="428.70" x2="65.70" y2="428.70" stroke="#333" stroke-width="1.0"/>
<text x="63.10" y="430.93" font-family="Liberation Serif" font-size="6.2" font-weight="bold" text-anchor="end" fill="#2a2a2a">150</text>
<rect x="72.10" y="457.60" width="23.50" height="58.50" fill="#1a1a1a"/>
<rect x="105.90" y="485.30" width="24.10" height="30.80" fill="#1a1a1a"/>
<rect x="141.00" y="476.60" width="23.60" height="39.50" fill="#1a1a1a"/>
<line x1="118.00" y1="485.30" x2="118.00" y2="482.70" stroke="#1a1a1a" stroke-width="1.2"/>
<line x1="111.70" y1="482.70" x2="124.30" y2="482.70" stroke="#1a1a1a" stroke-width="1.2"/>
<line x1="152.80" y1="476.60" x2="152.80" y2="473.50" stroke="#1a1a1a" stroke-width="1.2"/>
<line x1="146.50" y1="473.50" x2="159.10" y2="473.50" stroke="#1a1a1a" stroke-width="1.2"/>
<text x="118.80" y="483.20" font-family="Liberation Serif" font-size="10" font-weight="bold" text-anchor="middle" fill="#1a1a1a">**</text>
<text x="153.00" y="474.50" font-family="Liberation Serif" font-size="10" font-weight="bold" text-anchor="middle" fill="#1a1a1a">*</text>
<text x="84.00" y="525.00" font-family="Liberation Serif" font-size="6.8" font-weight="bold" text-anchor="middle" textLength="24" lengthAdjust="spacingAndGlyphs" fill="#1a1a1a">siRNA NC</text>
<text x="117.80" y="525.00" font-family="Liberation Serif" font-size="6.8" font-weight="bold" text-anchor="middle" textLength="24" lengthAdjust="spacingAndGlyphs" fill="#1a1a1a">siRNA Sp1</text>
<text x="152.00" y="525.00" font-family="Liberation Serif" font-size="6.8" font-weight="bold" text-anchor="middle" textLength="24" lengthAdjust="spacingAndGlyphs" fill="#1a1a1a">siRNA PU.1</text>
<text x="45.10" y="472.50" font-family="Liberation Serif" font-size="6.8" font-weight="bold" text-anchor="middle" transform="rotate(-90 45.10 472.50)" textLength="107" lengthAdjust="spacing" fill="#2a2a2a">Relative protein expression level</text>
<text x="51.50" y="471.20" font-family="Liberation Serif" font-size="6.8" font-weight="bold" text-anchor="middle" transform="rotate(-90 51.50 471.20)" textLength="24.4" lengthAdjust="spacing" fill="#2a2a2a">(% NC)</text>
<text x="9.70" y="552.30" font-family="Liberation Serif" font-size="15" font-weight="bold" fill="#1a1a1a">K</text>
<rect x="73.40" y="548.50" width="73.40" height="22.80" fill="#e6e6e6" stroke="#888" stroke-width="1"/>
<rect x="73.40" y="573.20" width="73.40" height="22.00" fill="#e6e6e6" stroke="#888" stroke-width="1"/>
<rect x="73.40" y="597.20" width="73.40" height="22.40" fill="#e4e4e4" stroke="#888" stroke-width="1"/>
<rect x="77.30" y="555.60" width="29.90" height="9.00" rx="4.50" fill="#202020" opacity="1.0" filter="url(#f160_110)"/>
<rect x="114.00" y="557.75" width="26.00" height="5.50" rx="2.75" fill="#202020" opacity="0.4" filter="url(#f180_120)"/>
<rect x="79.20" y="580.05" width="27.10" height="6.50" rx="3.25" fill="#202020" opacity="0.6000000000000001" filter="url(#f160_110)"/>
<rect x="80.70" y="582.68" width="24.10" height="3.58" rx="1.79" fill="#202020" opacity="0.44000000000000006" filter="url(#f160_88)"/>
<rect x="113.00" y="580.75" width="27.00" height="6.50" rx="3.25" fill="#202020" opacity="0.48750000000000004" filter="url(#f160_110)"/>
<rect x="114.50" y="583.38" width="24.00" height="3.58" rx="1.79" fill="#202020" opacity="0.35750000000000004" filter="url(#f160_88)"/>
<rect x="78.00" y="604.65" width="31.00" height="7.50" rx="3.75" fill="#202020" opacity="0.6375" filter="url(#f160_110)"/>
<rect x="79.50" y="607.69" width="28.00" height="4.12" rx="2.06" fill="#202020" opacity="0.4675" filter="url(#f160_88)"/>
<rect x="111.00" y="604.65" width="32.00" height="7.50" rx="3.75" fill="#202020" opacity="0.6000000000000001" filter="url(#f160_110)"/>
<rect x="112.50" y="607.69" width="29.00" height="4.12" rx="2.06" fill="#202020" opacity="0.44000000000000006" filter="url(#f160_88)"/>
<text x="69.60" y="562.90" font-family="Liberation Serif" font-size="10" font-weight="bold" text-anchor="end" fill="#1a1a1a">Sp1</text>
<text x="69.60" y="587.10" font-family="Liberation Serif" font-size="10" font-weight="bold" text-anchor="end" fill="#1a1a1a">PU.1</text>
<text x="69.60" y="613.60" font-family="Liberation Serif" font-size="10" font-weight="bold" text-anchor="end" fill="#1a1a1a">β-actin</text>
<text x="150.10" y="562.30" font-family="Liberation Serif" font-size="9.3" font-weight="bold" textLength="29" lengthAdjust="spacingAndGlyphs" fill="#1a1a1a">~90kDa</text>
<text x="148.10" y="586.50" font-family="Liberation Serif" font-size="9.3" font-weight="bold" textLength="29" lengthAdjust="spacingAndGlyphs" fill="#1a1a1a">~42kDa</text>
<text x="148.10" y="612.60" font-family="Liberation Serif" font-size="9.3" font-weight="bold" textLength="29" lengthAdjust="spacingAndGlyphs" fill="#1a1a1a">~42kDa</text>
<text x="110.10" y="633.50" font-family="Liberation Serif" font-size="11.2" font-weight="bold" text-anchor="middle" textLength="37" lengthAdjust="spacingAndGlyphs" fill="#1a1a1a">HCT116</text>
<line x1="60.30" y1="627.50" x2="60.30" y2="716.40" stroke="#333" stroke-width="1.0"/>
<line x1="59.80" y1="716.40" x2="171.70" y2="716.40" stroke="#333" stroke-width="1.0"/>
<line x1="58.30" y1="716.40" x2="60.30" y2="716.40" stroke="#333" stroke-width="1.0"/>
<text x="57.70" y="718.63" font-family="Liberation Serif" font-size="6.2" font-weight="bold" text-anchor="end" fill="#2a2a2a">0</text>
<line x1="58.30" y1="686.77" x2="60.30" y2="686.77" stroke="#333" stroke-width="1.0"/>
<text x="57.70" y="689.00" font-family="Liberation Serif" font-size="6.2" font-weight="bold" text-anchor="end" fill="#2a2a2a">50</text>
<line x1="58.30" y1="657.13" x2="60.30" y2="657.13" stroke="#333" stroke-width="1.0"/>
<text x="57.70" y="659.37" font-family="Liberation Serif" font-size="6.2" font-weight="bold" text-anchor="end" fill="#2a2a2a">100</text>
<line x1="58.30" y1="627.50" x2="60.30" y2="627.50" stroke="#333" stroke-width="1.0"/>
<text x="57.70" y="629.73" font-family="Liberation Serif" font-size="6.2" font-weight="bold" text-anchor="end" fill="#2a2a2a">150</text>
<rect x="67.10" y="657.50" width="24.50" height="58.90" fill="#1a1a1a"/>
<rect x="103.20" y="675.20" width="25.50" height="41.20" fill="#1a1a1a"/>
<rect x="140.30" y="672.50" width="25.00" height="43.90" fill="#1a1a1a"/>
<line x1="152.80" y1="672.50" x2="152.80" y2="670.60" stroke="#1a1a1a" stroke-width="1.2"/>
<line x1="146.50" y1="670.60" x2="159.10" y2="670.60" stroke="#1a1a1a" stroke-width="1.2"/>
<text x="115.70" y="674.00" font-family="Liberation Serif" font-size="10" font-weight="bold" text-anchor="middle" fill="#1a1a1a">**</text>
<text x="152.00" y="671.50" font-family="Liberation Serif" font-size="10" font-weight="bold" text-anchor="middle" fill="#1a1a1a">*</text>
<text x="79.40" y="726.00" font-family="Liberation Serif" font-size="6.8" font-weight="bold" text-anchor="middle" textLength="25.5" lengthAdjust="spacingAndGlyphs" fill="#1a1a1a">siRNA NC</text>
<text x="115.70" y="726.00" font-family="Liberation Serif" font-size="6.8" font-weight="bold" text-anchor="middle" textLength="25.5" lengthAdjust="spacingAndGlyphs" fill="#1a1a1a">siRNA Sp1</text>
<text x="152.40" y="726.00" font-family="Liberation Serif" font-size="6.8" font-weight="bold" text-anchor="middle" textLength="25.5" lengthAdjust="spacingAndGlyphs" fill="#1a1a1a">siRNA PU.1</text>
<text x="39.00" y="671.50" font-family="Liberation Serif" font-size="6.8" font-weight="bold" text-anchor="middle" transform="rotate(-90 39.00 671.50)" textLength="107" lengthAdjust="spacing" fill="#2a2a2a">Relative protein expression level</text>
<text x="45.10" y="670.70" font-family="Liberation Serif" font-size="6.8" font-weight="bold" text-anchor="middle" transform="rotate(-90 45.10 670.70)" textLength="25" lengthAdjust="spacing" fill="#2a2a2a">(% NC)</text>
<text x="244.30" y="365.20" font-family="Liberation Serif" font-size="15" font-weight="bold" fill="#1a1a1a">J</text>
<text x="396.40" y="359.10" font-family="Liberation Serif" font-size="11.3" font-weight="bold" text-anchor="middle" fill="#1a1a1a">PA (μM)</text>
<line x1="283.00" y1="369.10" x2="512.20" y2="369.10" stroke="#1a1a1a" stroke-width="1.6"/>
<text x="303.10" y="383.60" font-family="Liberation Serif" font-size="11.5" font-weight="bold" text-anchor="middle" fill="#1a1a1a">0</text>
<text x="339.10" y="383.60" font-family="Liberation Serif" font-size="11.5" font-weight="bold" text-anchor="middle" fill="#1a1a1a">50</text>
<text x="377.70" y="383.60" font-family="Liberation Serif" font-size="11.5" font-weight="bold" text-anchor="middle" fill="#1a1a1a">0</text>
<text x="415.80" y="383.60" font-family="Liberation Serif" font-size="11.5" font-weight="bold" text-anchor="middle" fill="#1a1a1a">50</text>
<text x="454.30" y="383.60" font-family="Liberation Serif" font-size="11.5" font-weight="bold" text-anchor="middle" fill="#1a1a1a">0</text>
<text x="498.70" y="383.60" font-family="Liberation Serif" font-size="11.5" font-weight="bold" text-anchor="middle" fill="#1a1a1a">50</text>
<line x1="282.50" y1="392.80" x2="352.00" y2="392.80" stroke="#1a1a1a" stroke-width="1.6"/>
<line x1="363.00" y1="392.80" x2="433.60" y2="392.80" stroke="#1a1a1a" stroke-width="1.6"/>
<line x1="442.70" y1="392.80" x2="513.40" y2="392.80" stroke="#1a1a1a" stroke-width="1.6"/>
<text x="294.60" y="408.40" font-family="Liberation Serif" font-size="11.4" font-weight="bold" fill="#1a1a1a">siRNA</text>
<text x="332.70" y="408.40" font-family="Liberation Serif" font-size="11.4" font-weight="bold" fill="#1a1a1a">NC</text>
<text x="370.80" y="408.40" font-family="Liberation Serif" font-size="11.4" font-weight="bold" fill="#1a1a1a">siRNA</text>
<text x="408.60" y="408.40" font-family="Liberation Serif" font-size="11.4" font-weight="bold" fill="#1a1a1a">Sp1</text>
<text x="446.60" y="408.40" font-family="Liberation Serif" font-size="11.4" font-weight="bold" fill="#1a1a1a">siRNA</text>
<text x="485.00" y="408.40" font-family="Liberation Serif" font-size="11.4" font-weight="bold" fill="#1a1a1a">PU.1</text>
<rect x="284.50" y="413.50" width="73.90" height="26.10" fill="#e8e8e8" stroke="#888" stroke-width="1"/>
<rect x="284.50" y="442.10" width="73.90" height="25.90" fill="#eeeeee" stroke="#888" stroke-width="1"/>
<rect x="361.10" y="413.50" width="74.40" height="26.10" fill="#e8e8e8" stroke="#888" stroke-width="1"/>
<rect x="361.10" y="442.10" width="74.40" height="25.90" fill="#eeeeee" stroke="#888" stroke-width="1"/>
<rect x="439.30" y="413.50" width="74.40" height="26.10" fill="#e8e8e8" stroke="#888" stroke-width="1"/>
<rect x="439.30" y="442.10" width="74.40" height="25.90" fill="#eeeeee" stroke="#888" stroke-width="1"/>
<rect x="290.00" y="426.75" width="27.00" height="4.50" rx="2.25" fill="#202020" opacity="0.8" filter="url(#f130_90)"/>
<rect x="323.00" y="425.75" width="30.00" height="5.50" rx="2.75" fill="#202020" opacity="0.85" filter="url(#f130_90)"/>
<rect x="365.00" y="426.00" width="33.00" height="8.00" rx="4.00" fill="#202020" opacity="0.75" filter="url(#f180_120)"/>
<rect x="402.00" y="426.00" width="30.00" height="9.00" rx="4.50" fill="#202020" opacity="0.9" filter="url(#f180_120)"/>
<rect x="442.00" y="423.00" width="28.00" height="6.00" rx="3.00" fill="#202020" opacity="0.85" filter="url(#f140_100)"/>
<rect x="476.00" y="422.20" width="29.00" height="6.00" rx="3.00" fill="#202020" opacity="0.8" filter="url(#f140_100)"/>
<rect x="288.00" y="452.00" width="32.00" height="8.00" rx="4.00" fill="#202020" opacity="0.95" filter="url(#f140_100)"/>
<rect x="322.00" y="450.00" width="33.00" height="8.00" rx="4.00" fill="#202020" opacity="0.95" filter="url(#f140_100)"/>
<rect x="364.00" y="455.95" width="34.00" height="8.50" rx="4.25" fill="#202020" opacity="0.95" filter="url(#f140_100)"/>
<rect x="402.00" y="454.75" width="32.00" height="8.50" rx="4.25" fill="#202020" opacity="0.95" filter="url(#f140_100)"/>
<rect x="443.00" y="452.25" width="31.00" height="7.50" rx="3.75" fill="#202020" opacity="0.95" filter="url(#f140_100)"/>
<rect x="477.00" y="449.75" width="31.00" height="8.50" rx="4.25" fill="#202020" opacity="0.95" filter="url(#f140_100)"/>
<text x="283.20" y="429.80" font-family="Liberation Serif" font-size="11.6" font-weight="bold" text-anchor="end" fill="#1a1a1a">TLR4</text>
<text x="283.20" y="458.50" font-family="Liberation Serif" font-size="11.3" font-weight="bold" text-anchor="end" fill="#1a1a1a">β-actin</text>
<text x="517.10" y="429.20" font-family="Liberation Serif" font-size="8.4" font-weight="bold" fill="#1a1a1a">~95kDa</text>
<text x="517.10" y="460.60" font-family="Liberation Serif" font-size="8.4" font-weight="bold" fill="#1a1a1a">~42kDa</text>
<text x="398.40" y="481.60" font-family="Liberation Serif" font-size="10" font-weight="bold" text-anchor="middle" textLength="31" lengthAdjust="spacingAndGlyphs" fill="#1a1a1a">SW480</text>
<text x="243.30" y="545.40" font-family="Liberation Serif" font-size="15" font-weight="bold" fill="#1a1a1a">L</text>
<text x="403.40" y="544.50" font-family="Liberation Serif" font-size="11.3" font-weight="bold" text-anchor="middle" fill="#1a1a1a">PA (μM)</text>
<line x1="278.60" y1="549.30" x2="526.10" y2="549.30" stroke="#1a1a1a" stroke-width="1.6"/>
<text x="299.70" y="566.60" font-family="Liberation Serif" font-size="11.5" font-weight="bold" text-anchor="middle" fill="#1a1a1a">0</text>
<text x="335.20" y="566.60" font-family="Liberation Serif" font-size="11.5" font-weight="bold" text-anchor="middle" fill="#1a1a1a">50</text>
<text x="379.00" y="566.60" font-family="Liberation Serif" font-size="11.5" font-weight="bold" text-anchor="middle" fill="#1a1a1a">0</text>
<text x="417.60" y="566.60" font-family="Liberation Serif" font-size="11.5" font-weight="bold" text-anchor="middle" fill="#1a1a1a">50</text>
<text x="465.10" y="566.60" font-family="Liberation Serif" font-size="11.5" font-weight="bold" text-anchor="middle" fill="#1a1a1a">0</text>
<text x="506.80" y="566.60" font-family="Liberation Serif" font-size="11.5" font-weight="bold" text-anchor="middle" fill="#1a1a1a">50</text>
<line x1="278.10" y1="568.80" x2="353.80" y2="568.80" stroke="#1a1a1a" stroke-width="1.6"/>
<line x1="365.40" y1="568.80" x2="441.50" y2="568.80" stroke="#1a1a1a" stroke-width="1.6"/>
<line x1="451.50" y1="568.80" x2="526.60" y2="568.80" stroke="#1a1a1a" stroke-width="1.6"/>
<text x="290.20" y="583.40" font-family="Liberation Serif" font-size="11.4" font-weight="bold" fill="#1a1a1a">siRNA</text>
<text x="328.80" y="583.40" font-family="Liberation Serif" font-size="11.4" font-weight="bold" fill="#1a1a1a">NC</text>
<text x="375.10" y="583.40" font-family="Liberation Serif" font-size="11.4" font-weight="bold" fill="#1a1a1a">siRNA</text>
<text x="412.50" y="583.40" font-family="Liberation Serif" font-size="11.4" font-weight="bold" fill="#1a1a1a">Sp1</text>
<text x="457.90" y="583.40" font-family="Liberation Serif" font-size="11.4" font-weight="bold" fill="#1a1a1a">siRNA</text>
<text x="497.80" y="583.40" font-family="Liberation Serif" font-size="11.4" font-weight="bold" fill="#1a1a1a">PU.1</text>
<rect x="279.90" y="588.20" width="78.50" height="18.20" fill="#e2e2e2" stroke="#888" stroke-width="1"/>
<rect x="279.90" y="610.30" width="78.50" height="23.30" fill="#e6e6e6" stroke="#888" stroke-width="1"/>
<rect x="364.80" y="588.20" width="77.70" height="18.20" fill="#e2e2e2" stroke="#888" stroke-width="1"/>
<rect x="364.80" y="610.30" width="77.70" height="23.30" fill="#e6e6e6" stroke="#888" stroke-width="1"/>
<rect x="448.90" y="588.20" width="79.30" height="18.20" fill="#e2e2e2" stroke="#888" stroke-width="1"/>
<rect x="448.90" y="610.30" width="79.30" height="23.30" fill="#e6e6e6" stroke="#888" stroke-width="1"/>
<rect x="285.00" y="595.70" width="30.00" height="5.00" rx="2.50" fill="#202020" opacity="0.85" filter="url(#f120_90)"/>
<rect x="325.00" y="594.40" width="31.00" height="6.00" rx="3.00" fill="#202020" opacity="0.9" filter="url(#f120_90)"/>
<rect x="367.00" y="596.50" width="30.00" height="5.00" rx="2.50" fill="#202020" opacity="0.8" filter="url(#f120_90)"/>
<rect x="410.00" y="593.65" width="30.00" height="5.50" rx="2.75" fill="#202020" opacity="0.9" filter="url(#f120_90)"/>
<rect x="453.00" y="596.00" width="29.00" height="6.00" rx="3.00" fill="#202020" opacity="0.9" filter="url(#f120_90)"/>
<rect x="493.00" y="595.95" width="28.00" height="4.50" rx="2.25" fill="#202020" opacity="0.25" filter="url(#f160_100)"/>
<rect x="282.00" y="618.20" width="34.00" height="9.00" rx="4.50" fill="#202020" opacity="0.97" filter="url(#f130_100)"/>
<rect x="322.00" y="618.20" width="34.00" height="9.00" rx="4.50" fill="#202020" opacity="0.97" filter="url(#f130_100)"/>
<rect x="367.00" y="618.70" width="34.00" height="9.00" rx="4.50" fill="#202020" opacity="0.97" filter="url(#f130_100)"/>
<rect x="409.00" y="615.25" width="32.00" height="9.50" rx="4.75" fill="#202020" opacity="0.97" filter="url(#f130_100)"/>
<rect x="451.00" y="616.90" width="33.00" height="9.00" rx="4.50" fill="#202020" opacity="0.97" filter="url(#f130_100)"/>
<rect x="493.00" y="615.35" width="33.00" height="9.50" rx="4.75" fill="#202020" opacity="0.97" filter="url(#f130_100)"/>
<text x="273.50" y="602.00" font-family="Liberation Serif" font-size="12" font-weight="bold" text-anchor="end" fill="#1a1a1a">TLR4</text>
<text x="273.00" y="626.30" font-family="Liberation Serif" font-size="12" font-weight="bold" text-anchor="end" fill="#1a1a1a">β-actin</text>
<text x="533.30" y="602.60" font-family="Liberation Serif" font-size="8.4" font-weight="bold" fill="#1a1a1a">~95kDa</text>
<text x="533.30" y="626.00" font-family="Liberation Serif" font-size="8.4" font-weight="bold" fill="#1a1a1a">~42kDa</text>
<text x="403.40" y="645.90" font-family="Liberation Serif" font-size="10" font-weight="bold" text-anchor="middle" textLength="36" lengthAdjust="spacingAndGlyphs" fill="#1a1a1a">HCT116</text>
<line x1="600.90" y1="355.60" x2="600.90" y2="478.70" stroke="#2a2a2a" stroke-width="1.2"/>
<line x1="600.40" y1="478.70" x2="750.40" y2="478.70" stroke="#2a2a2a" stroke-width="1.2"/>
<line x1="597.90" y1="478.70" x2="600.90" y2="478.70" stroke="#2a2a2a" stroke-width="1.2"/>
<text x="597.30" y="481.72" font-family="Liberation Sans" font-size="8.4" font-weight="bold" text-anchor="end" fill="#1a1a1a">0</text>
<line x1="597.90" y1="437.67" x2="600.90" y2="437.67" stroke="#2a2a2a" stroke-width="1.2"/>
<text x="597.30" y="440.69" font-family="Liberation Sans" font-size="8.4" font-weight="bold" text-anchor="end" fill="#1a1a1a">100</text>
<line x1="597.90" y1="396.63" x2="600.90" y2="396.63" stroke="#2a2a2a" stroke-width="1.2"/>
<text x="597.30" y="399.66" font-family="Liberation Sans" font-size="8.4" font-weight="bold" text-anchor="end" fill="#1a1a1a">200</text>
<line x1="597.90" y1="355.60" x2="600.90" y2="355.60" stroke="#2a2a2a" stroke-width="1.2"/>
<text x="597.30" y="358.62" font-family="Liberation Sans" font-size="8.4" font-weight="bold" text-anchor="end" fill="#1a1a1a">300</text>
<rect x="609.40" y="438.30" width="11.50" height="40.40" fill="#1a1a1a" stroke="#1a1a1a" stroke-width="1.3"/>
<rect x="626.40" y="422.10" width="11.50" height="56.60" fill="#1a1a1a" stroke="#1a1a1a" stroke-width="1.3"/>
<line x1="632.15" y1="421.50" x2="632.15" y2="420.20" stroke="#1a1a1a" stroke-width="1.3"/>
<line x1="628.55" y1="420.20" x2="635.75" y2="420.20" stroke="#1a1a1a" stroke-width="1.3"/>
<rect x="655.30" y="438.30" width="10.90" height="40.40" fill="#a0a0a0" stroke="#1a1a1a" stroke-width="1.3"/>
<rect x="672.20" y="393.00" width="11.00" height="85.70" fill="#a0a0a0" stroke="#1a1a1a" stroke-width="1.3"/>
<line x1="677.70" y1="392.40" x2="677.70" y2="382.50" stroke="#1a1a1a" stroke-width="1.3"/>
<line x1="674.10" y1="382.50" x2="681.30" y2="382.50" stroke="#1a1a1a" stroke-width="1.3"/>
<rect x="700.60" y="438.30" width="10.90" height="40.40" fill="#ffffff" stroke="#1a1a1a" stroke-width="1.3"/>
<rect x="717.80" y="452.40" width="10.70" height="26.30" fill="#ffffff" stroke="#1a1a1a" stroke-width="1.3"/>
<line x1="723.15" y1="451.80" x2="723.15" y2="448.40" stroke="#1a1a1a" stroke-width="1.3"/>
<line x1="719.55" y1="448.40" x2="726.75" y2="448.40" stroke="#1a1a1a" stroke-width="1.3"/>
<line x1="610.80" y1="416.40" x2="632.90" y2="416.40" stroke="#1a1a1a" stroke-width="1.3"/>
<text x="621.85" y="413.80" font-family="Liberation Sans" font-size="10" font-weight="bold" text-anchor="middle" fill="#1a1a1a">*</text>
<line x1="656.10" y1="379.10" x2="678.20" y2="379.10" stroke="#1a1a1a" stroke-width="1.3"/>
<text x="667.15" y="376.50" font-family="Liberation Sans" font-size="10" font-weight="bold" text-anchor="middle" fill="#1a1a1a">**</text>
<line x1="702.20" y1="433.40" x2="724.90" y2="433.40" stroke="#1a1a1a" stroke-width="1.3"/>
<text x="713.55" y="430.80" font-family="Liberation Sans" font-size="10" font-weight="bold" text-anchor="middle" fill="#1a1a1a">**</text>
<rect x="698.50" y="379.00" width="9.60" height="7.60" fill="#1a1a1a" stroke="#1a1a1a" stroke-width="1.2"/>
<text x="711.60" y="385.90" font-family="Liberation Sans" font-size="8.2" font-weight="bold" fill="#1a1a1a">Control</text>
<rect x="698.50" y="391.00" width="9.60" height="7.60" fill="#a0a0a0" stroke="#1a1a1a" stroke-width="1.2"/>
<text x="711.60" y="397.90" font-family="Liberation Sans" font-size="8.2" font-weight="bold" fill="#1a1a1a">siRNA-Sp1</text>
<rect x="698.50" y="402.80" width="9.60" height="7.60" fill="#ffffff" stroke="#1a1a1a" stroke-width="1.2"/>
<text x="711.60" y="409.70" font-family="Liberation Sans" font-size="8.2" font-weight="bold" fill="#1a1a1a">siRNA-PU.1</text>
<text x="615.90" y="489.30" font-family="Liberation Sans" font-size="9.2" font-weight="bold" text-anchor="middle" fill="#1a1a1a">Ctrl</text>
<text x="632.00" y="489.30" font-family="Liberation Sans" font-size="9.2" font-weight="bold" text-anchor="middle" fill="#1a1a1a">PA</text>
<text x="661.20" y="489.30" font-family="Liberation Sans" font-size="9.2" font-weight="bold" text-anchor="middle" fill="#1a1a1a">Ctrl</text>
<text x="677.60" y="489.30" font-family="Liberation Sans" font-size="9.2" font-weight="bold" text-anchor="middle" fill="#1a1a1a">PA</text>
<text x="707.00" y="489.30" font-family="Liberation Sans" font-size="9.2" font-weight="bold" text-anchor="middle" fill="#1a1a1a">Ctrl</text>
<text x="723.50" y="489.30" font-family="Liberation Sans" font-size="9.2" font-weight="bold" text-anchor="middle" fill="#1a1a1a">PA</text>
<text x="568.00" y="416.50" font-family="Liberation Sans" font-size="9.3" font-weight="bold" text-anchor="middle" transform="rotate(-90 568.00 416.50)" textLength="130" lengthAdjust="spacingAndGlyphs" fill="#1a1a1a">Relative protein expression level</text>
<text x="579.60" y="416.50" font-family="Liberation Sans" font-size="9.3" font-weight="bold" text-anchor="middle" transform="rotate(-90 579.60 416.50)" textLength="30" lengthAdjust="spacingAndGlyphs" fill="#1a1a1a">(% Ctrl)</text>
<line x1="607.90" y1="532.00" x2="607.90" y2="651.50" stroke="#2a2a2a" stroke-width="1.2"/>
<line x1="607.40" y1="651.50" x2="754.00" y2="651.50" stroke="#2a2a2a" stroke-width="1.2"/>
<line x1="604.90" y1="651.50" x2="607.90" y2="651.50" stroke="#2a2a2a" stroke-width="1.2"/>
<text x="604.30" y="654.52" font-family="Liberation Sans" font-size="8.4" font-weight="bold" text-anchor="end" fill="#1a1a1a">0</text>
<line x1="604.90" y1="611.67" x2="607.90" y2="611.67" stroke="#2a2a2a" stroke-width="1.2"/>
<text x="604.30" y="614.69" font-family="Liberation Sans" font-size="8.4" font-weight="bold" text-anchor="end" fill="#1a1a1a">100</text>
<line x1="604.90" y1="571.83" x2="607.90" y2="571.83" stroke="#2a2a2a" stroke-width="1.2"/>
<text x="604.30" y="574.86" font-family="Liberation Sans" font-size="8.4" font-weight="bold" text-anchor="end" fill="#1a1a1a">200</text>
<line x1="604.90" y1="532.00" x2="607.90" y2="532.00" stroke="#2a2a2a" stroke-width="1.2"/>
<text x="604.30" y="535.02" font-family="Liberation Sans" font-size="8.4" font-weight="bold" text-anchor="end" fill="#1a1a1a">300</text>
<rect x="618.60" y="612.10" width="11.60" height="39.40" fill="#1a1a1a" stroke="#1a1a1a" stroke-width="1.3"/>
<rect x="637.10" y="563.70" width="12.10" height="87.80" fill="#1a1a1a" stroke="#1a1a1a" stroke-width="1.3"/>
<line x1="643.15" y1="563.10" x2="643.15" y2="556.20" stroke="#1a1a1a" stroke-width="1.3"/>
<line x1="639.55" y1="556.20" x2="646.75" y2="556.20" stroke="#1a1a1a" stroke-width="1.3"/>
<rect x="667.90" y="612.10" width="11.50" height="39.40" fill="#a0a0a0" stroke="#1a1a1a" stroke-width="1.3"/>
<rect x="686.40" y="577.40" width="12.10" height="74.10" fill="#a0a0a0" stroke="#1a1a1a" stroke-width="1.3"/>
<line x1="692.45" y1="576.80" x2="692.45" y2="574.90" stroke="#1a1a1a" stroke-width="1.3"/>
<line x1="688.85" y1="574.90" x2="696.05" y2="574.90" stroke="#1a1a1a" stroke-width="1.3"/>
<rect x="718.10" y="612.10" width="11.60" height="39.40" fill="#ffffff" stroke="#1a1a1a" stroke-width="1.3"/>
<rect x="736.60" y="637.50" width="12.10" height="14.00" fill="#ffffff" stroke="#1a1a1a" stroke-width="1.3"/>
<line x1="742.65" y1="636.90" x2="742.65" y2="634.00" stroke="#1a1a1a" stroke-width="1.3"/>
<line x1="739.05" y1="634.00" x2="746.25" y2="634.00" stroke="#1a1a1a" stroke-width="1.3"/>
<line x1="621.50" y1="553.00" x2="645.50" y2="553.00" stroke="#1a1a1a" stroke-width="1.3"/>
<text x="633.50" y="550.40" font-family="Liberation Sans" font-size="10" font-weight="bold" text-anchor="middle" fill="#1a1a1a">**</text>
<line x1="669.20" y1="570.50" x2="692.70" y2="570.50" stroke="#1a1a1a" stroke-width="1.3"/>
<text x="680.95" y="567.90" font-family="Liberation Sans" font-size="10" font-weight="bold" text-anchor="middle" fill="#1a1a1a">**</text>
<line x1="720.00" y1="608.30" x2="743.60" y2="608.30" stroke="#1a1a1a" stroke-width="1.3"/>
<text x="731.80" y="605.70" font-family="Liberation Sans" font-size="10" font-weight="bold" text-anchor="middle" fill="#1a1a1a">**</text>
<rect x="717.50" y="547.20" width="9.60" height="7.60" fill="#1a1a1a" stroke="#1a1a1a" stroke-width="1.2"/>
<text x="731.00" y="554.10" font-family="Liberation Sans" font-size="8.2" font-weight="bold" fill="#1a1a1a">Control</text>
<rect x="717.50" y="560.00" width="9.60" height="7.60" fill="#a0a0a0" stroke="#1a1a1a" stroke-width="1.2"/>
<text x="731.00" y="566.90" font-family="Liberation Sans" font-size="8.2" font-weight="bold" fill="#1a1a1a">siRNA-Sp1</text>
<rect x="717.50" y="571.40" width="9.60" height="7.60" fill="#ffffff" stroke="#1a1a1a" stroke-width="1.2"/>
<text x="731.00" y="578.30" font-family="Liberation Sans" font-size="8.2" font-weight="bold" fill="#1a1a1a">siRNA-PU.1</text>
<text x="624.40" y="662.50" font-family="Liberation Sans" font-size="9.2" font-weight="bold" text-anchor="middle" fill="#1a1a1a">Ctrl</text>
<text x="642.80" y="662.50" font-family="Liberation Sans" font-size="9.2" font-weight="bold" text-anchor="middle" fill="#1a1a1a">PA</text>
<text x="674.00" y="662.50" font-family="Liberation Sans" font-size="9.2" font-weight="bold" text-anchor="middle" fill="#1a1a1a">Ctrl</text>
<text x="692.00" y="662.50" font-family="Liberation Sans" font-size="9.2" font-weight="bold" text-anchor="middle" fill="#1a1a1a">PA</text>
<text x="723.90" y="662.50" font-family="Liberation Sans" font-size="9.2" font-weight="bold" text-anchor="middle" fill="#1a1a1a">Ctrl</text>
<text x="742.30" y="662.50" font-family="Liberation Sans" font-size="9.2" font-weight="bold" text-anchor="middle" fill="#1a1a1a">PA</text>
<text x="572.50" y="590.80" font-family="Liberation Sans" font-size="9.3" font-weight="bold" text-anchor="middle" transform="rotate(-90 572.50 590.80)" textLength="127" lengthAdjust="spacingAndGlyphs" fill="#1a1a1a">Relative protein expression level</text>
<text x="584.50" y="590.80" font-family="Liberation Sans" font-size="9.3" font-weight="bold" text-anchor="middle" transform="rotate(-90 584.50 590.80)" textLength="30" lengthAdjust="spacingAndGlyphs" fill="#1a1a1a">(% Ctrl)</text>
<text x="9.70" y="760.70" font-family="Liberation Serif" font-size="15" font-weight="bold" fill="#1a1a1a">M</text>
<rect x="25.70" y="774.20" width="252.70" height="65.00" fill="#efefef" stroke="#555" stroke-width="1"/>
<rect x="51.30" y="815.70" width="169.50" height="4.20" fill="#111"/>
<polyline points="204.2,816 204.2,795 222,795" fill="none" stroke="#111" stroke-width="1.2"/>
<polygon points="226.5,795 219.5,791.8 219.5,798.2" fill="#111"/>
<text x="232.60" y="801.60" font-family="Liberation Serif" font-size="13.6" font-weight="bold" fill="#1a1a1a">TLR4</text>
<text x="65.20" y="836.40" font-family="Liberation Serif" font-size="13.4" font-weight="bold" textLength="106" lengthAdjust="spacingAndGlyphs" fill="#1a1a1a">-204-172 -106  -40</text>
<text x="77.80" y="815.80" font-family="Liberation Serif" font-size="12.5" font-weight="bold" transform="rotate(-37 77.80 815.80)" fill="#1a1a1a">PU.1_5</text>
<text x="103.10" y="815.80" font-family="Liberation Serif" font-size="12.5" font-weight="bold" transform="rotate(-37 103.10 815.80)" fill="#1a1a1a">PU.1_2</text>
<text x="135.10" y="815.80" font-family="Liberation Serif" font-size="12.5" font-weight="bold" transform="rotate(-37 135.10 815.80)" fill="#1a1a1a">PU.1_1</text>
<text x="165.80" y="815.80" font-family="Liberation Serif" font-size="12.5" font-weight="bold" transform="rotate(-37 165.80 815.80)" fill="#1a1a1a">PU.1_0</text>
<text x="308.10" y="714.00" font-family="Liberation Serif" font-size="14.5" font-weight="bold" fill="#1a1a1a">N</text>
<line x1="383.30" y1="716.30" x2="383.30" y2="909.50" stroke="#222" stroke-width="1.3"/>
<line x1="382.80" y1="909.50" x2="665.00" y2="909.50" stroke="#222" stroke-width="1.3"/>
<line x1="380.30" y1="909.50" x2="383.30" y2="909.50" stroke="#222" stroke-width="1.3"/>
<text x="379.90" y="913.40" font-family="Liberation Sans" font-size="10.8" font-weight="bold" text-anchor="end" textLength="5.4" lengthAdjust="spacingAndGlyphs" fill="#1a1a1a">0</text>
<line x1="380.30" y1="845.10" x2="383.30" y2="845.10" stroke="#222" stroke-width="1.3"/>
<text x="379.90" y="849.00" font-family="Liberation Sans" font-size="10.8" font-weight="bold" text-anchor="end" textLength="10.6" lengthAdjust="spacingAndGlyphs" fill="#1a1a1a">50</text>
<line x1="380.30" y1="780.70" x2="383.30" y2="780.70" stroke="#222" stroke-width="1.3"/>
<text x="379.90" y="784.60" font-family="Liberation Sans" font-size="10.8" font-weight="bold" text-anchor="end" textLength="15.6" lengthAdjust="spacingAndGlyphs" fill="#1a1a1a">100</text>
<line x1="380.30" y1="716.30" x2="383.30" y2="716.30" stroke="#222" stroke-width="1.3"/>
<text x="379.90" y="720.20" font-family="Liberation Sans" font-size="10.8" font-weight="bold" text-anchor="end" textLength="15.6" lengthAdjust="spacingAndGlyphs" fill="#1a1a1a">150</text>
<text x="348.40" y="811.00" font-family="Liberation Sans" font-size="10.4" font-weight="bold" text-anchor="middle" transform="rotate(-90 348.40 811.00)" textLength="188.5" lengthAdjust="spacingAndGlyphs" fill="#1a1a1a">Relative promoter activity (% of Ctrl)</text>
<rect x="387.60" y="780.70" width="16.00" height="128.80" fill="#fff" stroke="#1a1a1a" stroke-width="1.3"/>
<rect x="411.30" y="744.64" width="15.40" height="164.86" fill="url(#pdot)" stroke="#1a1a1a" stroke-width="1.3"/>
<line x1="419.00" y1="744.64" x2="419.00" y2="738.84" stroke="#1a1a1a" stroke-width="1.3"/>
<line x1="414.70" y1="738.84" x2="423.30" y2="738.84" stroke="#1a1a1a" stroke-width="1.3"/>
<rect x="434.40" y="780.70" width="16.10" height="128.80" fill="#d4d4d4" stroke="#1a1a1a" stroke-width="1.3"/>
<rect x="458.20" y="733.04" width="15.40" height="176.46" fill="url(#phl)" stroke="#1a1a1a" stroke-width="1.3"/>
<line x1="465.90" y1="733.04" x2="465.90" y2="727.25" stroke="#1a1a1a" stroke-width="1.3"/>
<line x1="461.60" y1="727.25" x2="470.20" y2="727.25" stroke="#1a1a1a" stroke-width="1.3"/>
<rect x="481.40" y="780.70" width="15.80" height="128.80" fill="url(#pdk1)" stroke="#1a1a1a" stroke-width="1.3"/>
<rect x="504.50" y="816.76" width="15.80" height="92.74" fill="url(#pdk2)" stroke="#1a1a1a" stroke-width="1.3"/>
<line x1="512.40" y1="816.76" x2="512.40" y2="807.75" stroke="#1a1a1a" stroke-width="1.3"/>
<line x1="508.10" y1="807.75" x2="516.70" y2="807.75" stroke="#1a1a1a" stroke-width="1.3"/>
<rect x="528.10" y="780.70" width="16.00" height="128.80" fill="url(#pgrid)" stroke="#1a1a1a" stroke-width="1.3"/>
<rect x="551.30" y="801.31" width="16.40" height="108.19" fill="url(#pdia)" stroke="#1a1a1a" stroke-width="1.3"/>
<line x1="559.50" y1="801.31" x2="559.50" y2="793.58" stroke="#1a1a1a" stroke-width="1.3"/>
<line x1="555.20" y1="793.58" x2="563.80" y2="793.58" stroke="#1a1a1a" stroke-width="1.3"/>
<rect x="575.00" y="780.70" width="16.00" height="128.80" fill="url(#pbs)" stroke="#1a1a1a" stroke-width="1.3"/>
<rect x="598.20" y="775.55" width="16.40" height="133.95" fill="url(#pfs)" stroke="#1a1a1a" stroke-width="1.3"/>
<line x1="606.40" y1="775.55" x2="606.40" y2="757.52" stroke="#1a1a1a" stroke-width="1.3"/>
<line x1="602.10" y1="757.52" x2="610.70" y2="757.52" stroke="#1a1a1a" stroke-width="1.3"/>
<rect x="621.40" y="780.70" width="16.40" height="128.80" fill="url(#pvl)" stroke="#1a1a1a" stroke-width="1.3"/>
<rect x="645.10" y="765.24" width="16.20" height="144.26" fill="url(#phl2)" stroke="#1a1a1a" stroke-width="1.3"/>
<line x1="653.20" y1="765.24" x2="653.20" y2="754.94" stroke="#1a1a1a" stroke-width="1.3"/>
<line x1="648.90" y1="754.94" x2="657.50" y2="754.94" stroke="#1a1a1a" stroke-width="1.3"/>
<line x1="396.00" y1="734.30" x2="421.60" y2="734.30" stroke="#1a1a1a" stroke-width="1.3"/>
<text x="408.80" y="729.90" font-family="Liberation Sans" font-size="10.5" font-weight="bold" text-anchor="middle" fill="#1a1a1a">**</text>
<line x1="444.00" y1="722.80" x2="468.70" y2="722.80" stroke="#1a1a1a" stroke-width="1.3"/>
<text x="456.35" y="718.40" font-family="Liberation Sans" font-size="10.5" font-weight="bold" text-anchor="middle" fill="#1a1a1a">**</text>
<line x1="488.10" y1="775.80" x2="513.20" y2="775.80" stroke="#1a1a1a" stroke-width="1.3"/>
<text x="500.65" y="771.40" font-family="Liberation Sans" font-size="10.5" font-weight="bold" text-anchor="middle" fill="#1a1a1a">**</text>
<text x="378.50" y="928.30" font-family="Liberation Serif" font-size="9.4" font-weight="bold" text-anchor="end" textLength="40.4" lengthAdjust="spacingAndGlyphs" fill="#1a1a1a">PA(50μM)</text>
<line x1="388.80" y1="931.40" x2="428.20" y2="931.40" stroke="#333" stroke-width="1.5"/>
<line x1="395.30" y1="909.50" x2="395.30" y2="912.50" stroke="#888" stroke-width="0.8"/>
<line x1="418.70" y1="909.50" x2="418.70" y2="912.50" stroke="#888" stroke-width="0.8"/>
<text x="391.80" y="926.80" font-family="Liberation Sans" font-size="8" text-anchor="middle" fill="#1a1a1a">-</text>
<text x="417.40" y="928.00" font-family="Liberation Sans" font-size="9" text-anchor="middle" fill="#1a1a1a">+</text>
<line x1="435.10" y1="931.40" x2="474.50" y2="931.40" stroke="#333" stroke-width="1.5"/>
<line x1="441.60" y1="909.50" x2="441.60" y2="912.50" stroke="#888" stroke-width="0.8"/>
<line x1="465.00" y1="909.50" x2="465.00" y2="912.50" stroke="#888" stroke-width="0.8"/>
<text x="438.10" y="926.80" font-family="Liberation Sans" font-size="8" text-anchor="middle" fill="#1a1a1a">-</text>
<text x="463.70" y="928.00" font-family="Liberation Sans" font-size="9" text-anchor="middle" fill="#1a1a1a">+</text>
<line x1="482.00" y1="931.40" x2="521.50" y2="931.40" stroke="#333" stroke-width="1.5"/>
<line x1="488.50" y1="909.50" x2="488.50" y2="912.50" stroke="#888" stroke-width="0.8"/>
<line x1="512.00" y1="909.50" x2="512.00" y2="912.50" stroke="#888" stroke-width="0.8"/>
<text x="485.00" y="926.80" font-family="Liberation Sans" font-size="8" text-anchor="middle" fill="#1a1a1a">-</text>
<text x="510.70" y="928.00" font-family="Liberation Sans" font-size="9" text-anchor="middle" fill="#1a1a1a">+</text>
<line x1="529.10" y1="931.40" x2="568.50" y2="931.40" stroke="#333" stroke-width="1.5"/>
<line x1="535.60" y1="909.50" x2="535.60" y2="912.50" stroke="#888" stroke-width="0.8"/>
<line x1="559.00" y1="909.50" x2="559.00" y2="912.50" stroke="#888" stroke-width="0.8"/>
<text x="532.10" y="926.80" font-family="Liberation Sans" font-size="8" text-anchor="middle" fill="#1a1a1a">-</text>
<text x="557.70" y="928.00" font-family="Liberation Sans" font-size="9" text-anchor="middle" fill="#1a1a1a">+</text>
<line x1="574.90" y1="931.40" x2="614.00" y2="931.40" stroke="#333" stroke-width="1.5"/>
<line x1="581.40" y1="909.50" x2="581.40" y2="912.50" stroke="#888" stroke-width="0.8"/>
<line x1="604.50" y1="909.50" x2="604.50" y2="912.50" stroke="#888" stroke-width="0.8"/>
<text x="577.90" y="926.80" font-family="Liberation Sans" font-size="8" text-anchor="middle" fill="#1a1a1a">-</text>
<text x="603.20" y="928.00" font-family="Liberation Sans" font-size="9" text-anchor="middle" fill="#1a1a1a">+</text>
<line x1="622.60" y1="931.40" x2="661.90" y2="931.40" stroke="#333" stroke-width="1.5"/>
<line x1="629.10" y1="909.50" x2="629.10" y2="912.50" stroke="#888" stroke-width="0.8"/>
<line x1="652.40" y1="909.50" x2="652.40" y2="912.50" stroke="#888" stroke-width="0.8"/>
<text x="625.60" y="926.80" font-family="Liberation Sans" font-size="8" text-anchor="middle" fill="#1a1a1a">-</text>
<text x="651.10" y="928.00" font-family="Liberation Sans" font-size="9" text-anchor="middle" fill="#1a1a1a">+</text>
<text x="408.10" y="944.00" font-family="Liberation Sans" font-size="8.8" font-weight="bold" text-anchor="middle" textLength="45" lengthAdjust="spacingAndGlyphs" fill="#1a1a1a">TLR4-E-pGL3</text>
<text x="454.40" y="944.00" font-family="Liberation Sans" font-size="8.8" font-weight="bold" text-anchor="middle" textLength="29" lengthAdjust="spacingAndGlyphs" fill="#1a1a1a">mPU.1_0</text>
<text x="501.50" y="944.00" font-family="Liberation Sans" font-size="8.8" font-weight="bold" text-anchor="middle" textLength="29" lengthAdjust="spacingAndGlyphs" fill="#1a1a1a">mPU.1_1</text>
<text x="548.70" y="944.00" font-family="Liberation Sans" font-size="8.8" font-weight="bold" text-anchor="middle" textLength="29" lengthAdjust="spacingAndGlyphs" fill="#1a1a1a">mPU.1_2</text>
<text x="594.20" y="944.00" font-family="Liberation Sans" font-size="8.8" font-weight="bold" text-anchor="middle" textLength="29" lengthAdjust="spacingAndGlyphs" fill="#1a1a1a">mPU.1_5</text>
<text x="641.90" y="944.00" font-family="Liberation Sans" font-size="8.8" font-weight="bold" text-anchor="middle" textLength="39.4" lengthAdjust="spacingAndGlyphs" fill="#1a1a1a">pGL3-Basic</text>
</svg></body></html>
